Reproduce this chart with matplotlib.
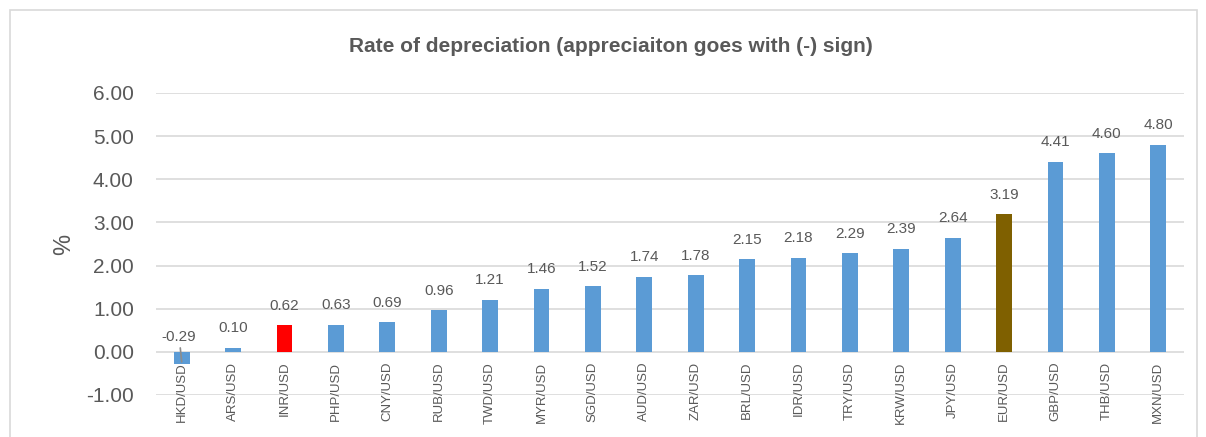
import matplotlib
matplotlib.use("Agg")
import matplotlib.pyplot as plt
from matplotlib.patches import Rectangle

plt.rcParams['font.family'] = ['Liberation Sans', 'DejaVu Sans']

pairs = ["HKD/USD", "ARS/USD", "INR/USD", "PHP/USD", "CNY/USD", "RUB/USD",
         "TWD/USD", "MYR/USD", "SGD/USD", "AUD/USD", "ZAR/USD", "BRL/USD",
         "IDR/USD", "TRY/USD", "KRW/USD", "JPY/USD", "EUR/USD", "GBP/USD",
         "THB/USD", "MXN/USD"]
rates = [-0.29, 0.10, 0.62, 0.63, 0.69, 0.96, 1.21, 1.46, 1.52, 1.74,
         1.78, 2.15, 2.18, 2.29, 2.39, 2.64, 3.19, 4.41, 4.60, 4.80]
yticks = [-1, 0, 1, 2, 3, 4, 5, 6]

blue = "#5B9BD5"
highlight = {"INR/USD": "#FF0000", "EUR/USD": "#7F6000"}
colors = [highlight.get(p, blue) for p in pairs]
txt = "#595959"

fig = plt.figure(figsize=(12.06, 4.37), dpi=100)
fig.patches.append(Rectangle((10/1206, -0.05), 1187/1206, 1.05 - 10/437,
                             transform=fig.transFigure, fill=False,
                             edgecolor="#d9d9d9", linewidth=1.2))

ax = fig.add_axes([156/1206, 42/437, 1028/1206, 302/437])
x = list(range(len(pairs)))
ax.bar(x, rates, width=0.31, color=colors, zorder=3)

for xi, v in zip(x, rates):
    if v < 0:
        ax.annotate(f"{v:.2f}", xy=(xi, v * 0.8), xytext=(xi - 0.05, 0.35),
                    ha="center", va="center", fontsize=11, color=txt,
                    arrowprops=dict(arrowstyle="-", color="#8c8c8c", lw=1.2,
                                    shrinkA=1, shrinkB=0), zorder=6)
    else:
        ax.annotate(f"{v:.2f}", xy=(xi, v), xytext=(0, 9),
                    textcoords="offset points", ha="center", va="bottom",
                    fontsize=11, color=txt)

# category labels hang from the zero line, as in the source chart
for xi, p in zip(x, pairs):
    ax.text(xi, -0.23, p, rotation=90, ha="center", va="top",
            fontsize=9.5, color=txt, zorder=5)

ax.set_xlim(-0.5, len(pairs) - 0.5)
ax.set_ylim(-1, 6)
ax.set_yticks(yticks)
ax.set_yticklabels([f"{t:.2f}" for t in yticks])
ax.set_xticks([])
ax.tick_params(axis="y", labelsize=15, labelcolor=txt, length=0, pad=16)
ax.grid(axis="y", color="#d9d9d9", linewidth=1.2, zorder=0)
for s in ax.spines.values():
    s.set_visible(False)
ax.set_ylabel("%", fontsize=17, color=txt, labelpad=8)

fig.text(611/1206, 1 - 47/437, "Rate of depreciation (appreciaiton goes with (-) sign)",
         ha="center", va="center", fontsize=15, fontweight="bold", color=txt)

fig.savefig("out.png", dpi=100)
